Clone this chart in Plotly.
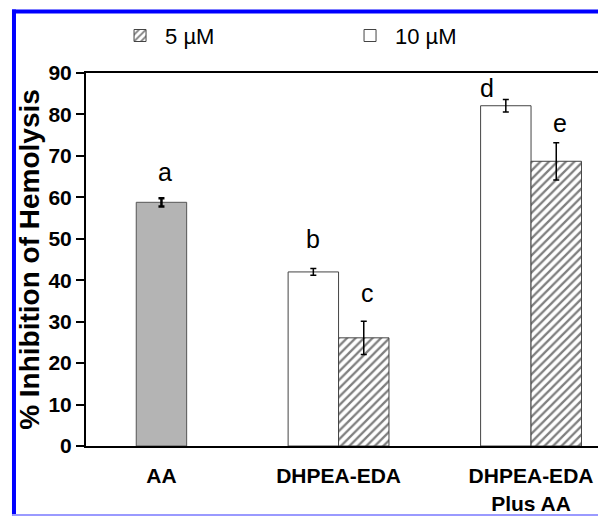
import plotly.graph_objects as go

# ---- data ----
categories = ["AA", "DHPEA-EDA", "DHPEA-EDA<br>Plus AA"]
aa_value = [58.8]
aa_err = [1.0]
val_10uM = [42.0, 82.1]
err_10uM = [0.8, 1.5]
val_5uM = [26.1, 68.7]
err_5uM = [4.0, 4.5]
letters = ["a", "b", "c", "d", "e"]
letter_y = [66.0, 50.0, 37.0, 86.5, 78.0]

# ---- layout positions (not data) ----
xpos = [1.08, 2.0, 3.0]
bw = 0.262
letter_x = [1.10, 2.0 - bw / 2, 2.0 + bw / 2 + 0.02, 3.0 - bw / 2 - 0.1, 3.0 + bw / 2 + 0.02]

FONT = "Liberation Sans, Arial, sans-serif"

fig = go.Figure()

fig.add_trace(go.Bar(
    x=[xpos[0]], y=aa_value, width=bw,
    marker=dict(color="#b4b4b4", line=dict(color="#555555", width=1)),
    error_y=dict(type="data", array=aa_err, color="black", thickness=2.5, width=3),
    showlegend=False, name="AA",
))

fig.add_trace(go.Bar(
    x=[p - bw / 2 for p in xpos[1:]], y=val_10uM, width=bw,
    marker=dict(color="white", line=dict(color="#444444", width=1)),
    error_y=dict(type="data", array=err_10uM, color="black", thickness=1.5, width=3),
    name="10 µM", legendrank=2,
))

fig.add_trace(go.Bar(
    x=[p + bw / 2 for p in xpos[1:]], y=val_5uM, width=bw,
    marker=dict(color="white", line=dict(color="#444444", width=1),
                pattern=dict(shape="/", fgcolor="black", bgcolor="white", size=6, solidity=0.38)),
    error_y=dict(type="data", array=err_5uM, color="black", thickness=1.5, width=3),
    name="5 µM", legendrank=1,
))

for lx, ly, t in zip(letter_x, letter_y, letters):
    fig.add_annotation(x=lx, y=ly, text=t, showarrow=False, xref="x", yref="y",
                       font=dict(size=25, color="black", family=FONT))

# blue frame of the picture
blue = "#0000ff"
fig.add_shape(type="line", xref="paper", yref="paper", x0=-0.1364, x1=-0.1364, y0=1.17, y1=-0.2,
              line=dict(color=blue, width=4))
fig.add_shape(type="line", xref="paper", yref="paper", x0=-0.14, x1=1.1, y0=1.165, y1=1.165,
              line=dict(color=blue, width=4))
fig.add_shape(type="line", xref="paper", yref="paper", x0=-0.14, x1=1.1, y0=-0.185, y1=-0.185,
              line=dict(color="#9a9aff", width=2))

fig.update_layout(
    width=606, height=516,
    margin=dict(l=78, r=0, t=65, b=78),
    paper_bgcolor="white", plot_bgcolor="white",
    barmode="overlay",
    font=dict(family=FONT, color="black"),
    showlegend=True,
    legend=dict(orientation="h", x=0.055, y=1.10, xanchor="left", yanchor="middle",
                font=dict(size=22, family=FONT), entrywidth=175, itemwidth=40,
                traceorder="normal", bgcolor="rgba(0,0,0,0)"),
    xaxis=dict(range=[0.688, 3.431], tickvals=xpos, ticktext=["<b>%s</b>" % c for c in categories],
               showline=True, linecolor="black", linewidth=2, mirror=True, ticks="",
               showgrid=False, zeroline=False, tickfont=dict(size=21, family=FONT),
               ticklabelstandoff=10),
    yaxis=dict(range=[0, 90], dtick=10, showline=True, linecolor="black", linewidth=2,
               ticks="outside", ticklen=8, tickwidth=1.5, tickcolor="black",
               showgrid=False, zeroline=False,
               tickfont=dict(size=21, family=FONT), tickprefix="<b>", ticksuffix="</b>",
               title=dict(text="<b>% Inhibition of Hemolysis</b>", font=dict(size=28, family=FONT),
                          standoff=1)),
)

fig.write_html("out.html")
